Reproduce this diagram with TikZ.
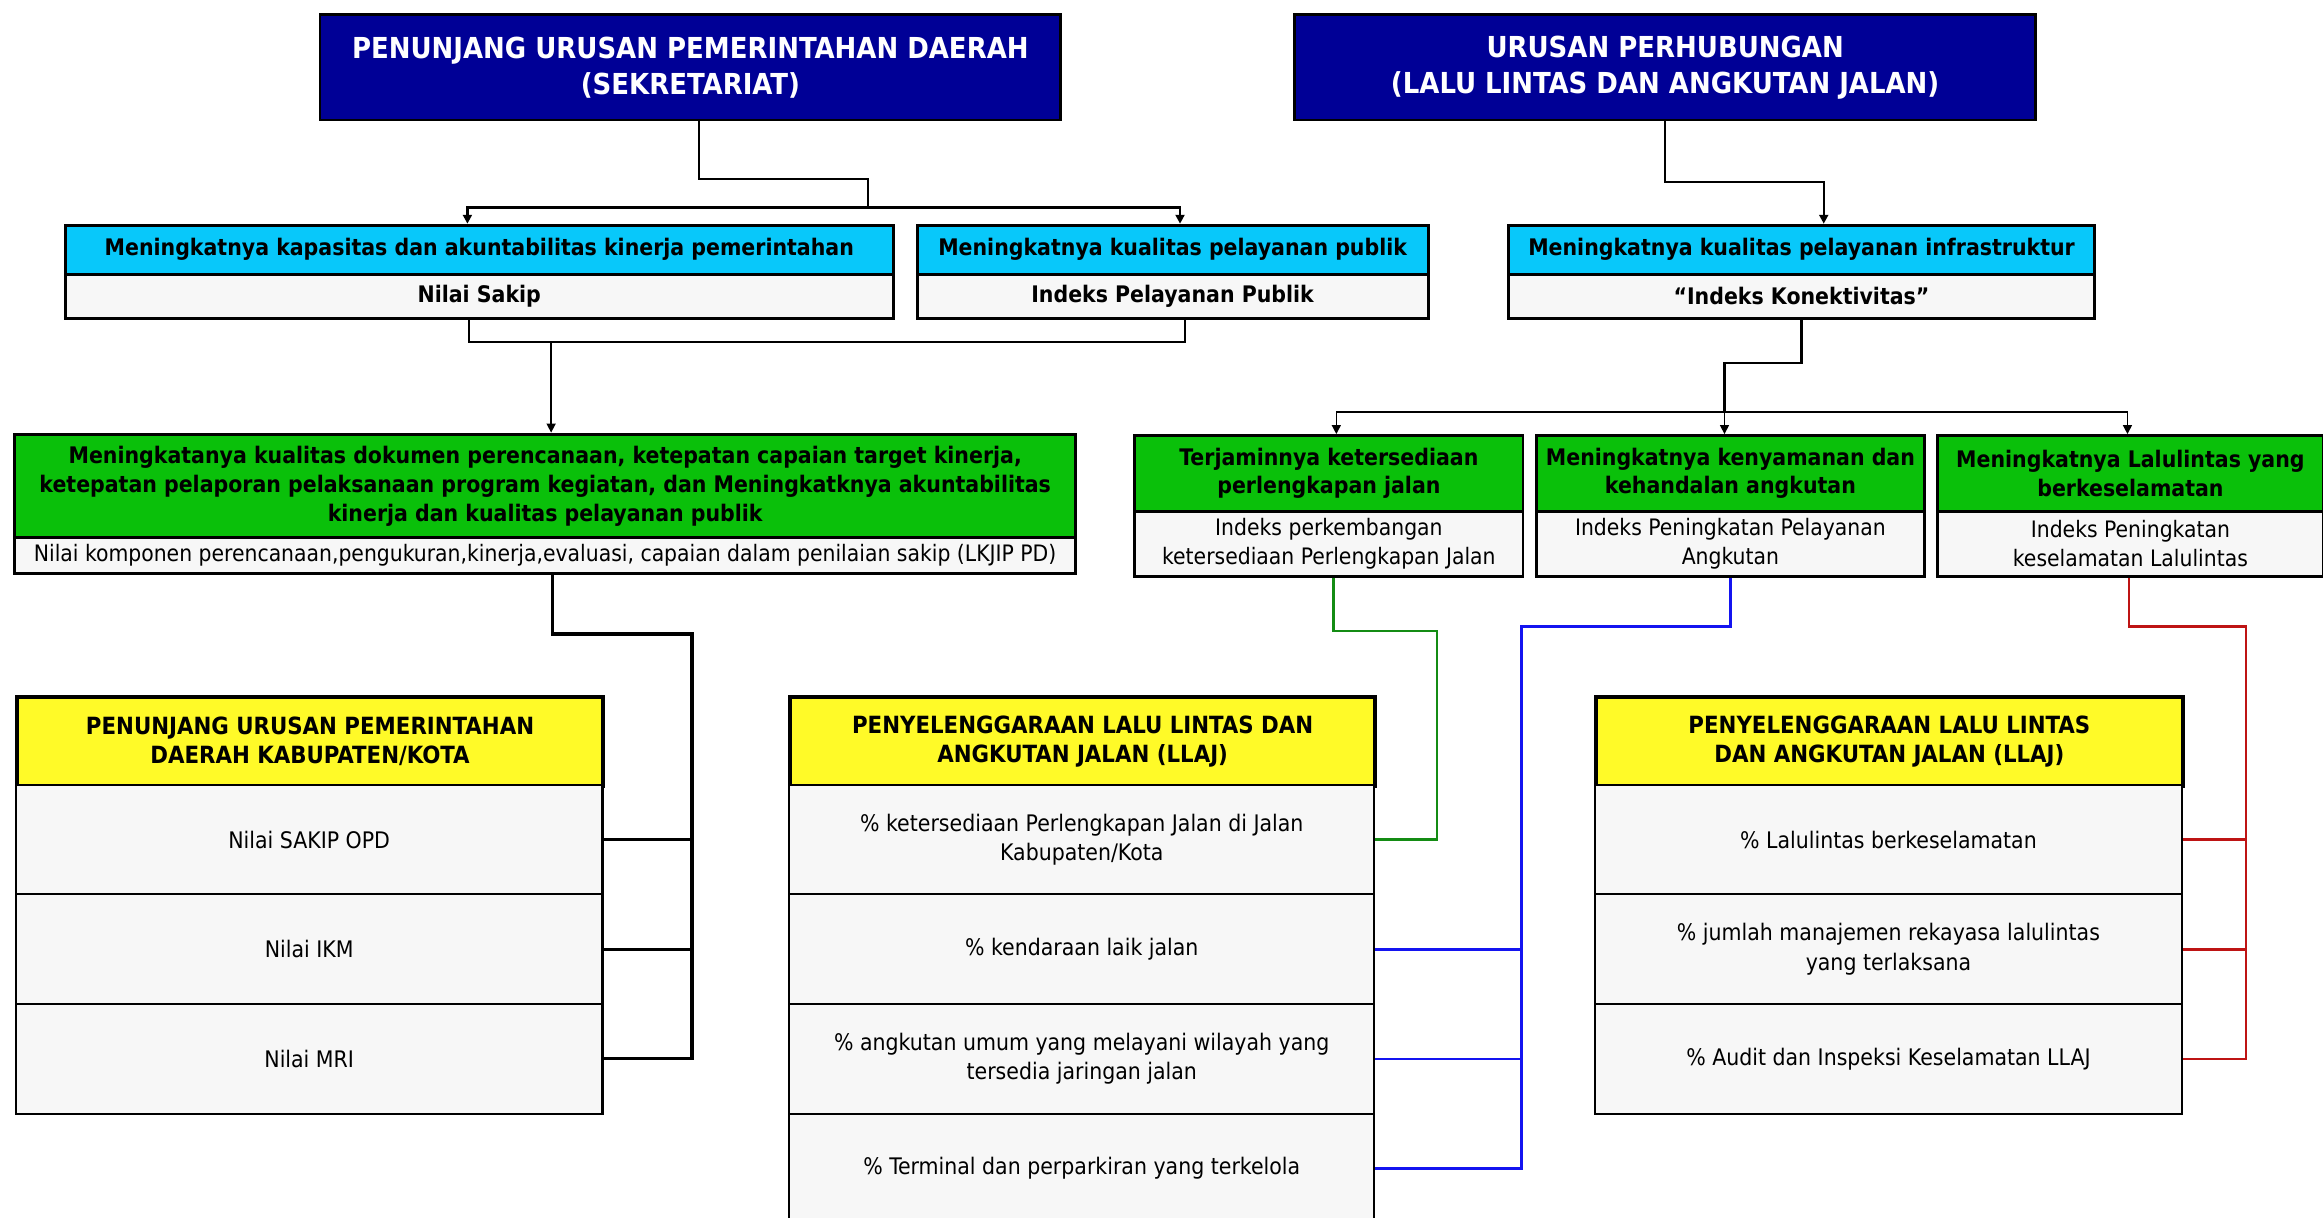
\documentclass[tikz,border=0pt]{standalone}
\usepackage{fontspec}
\setmainfont{DejaVu Sans Condensed}
\usetikzlibrary{arrows.meta}
\definecolor{navy}{RGB}{0,0,150}
\definecolor{cyanh}{RGB}{8,200,250}
\definecolor{greenh}{RGB}{10,192,10}
\definecolor{yellowh}{RGB}{255,250,40}
\definecolor{rowf}{RGB}{247,247,247}
\definecolor{lgreen}{RGB}{20,140,20}
\definecolor{lblue}{RGB}{20,20,240}
\definecolor{lred}{RGB}{190,20,20}
\tikzset{
  box/.style={draw=black, inner sep=0pt, anchor=north west, align=center},
  navybox/.style={box, line width=2pt, fill=navy, text=white, font=\fontsize{19.5}{24}\selectfont\bfseries},
  cyanbox/.style={box, line width=2pt, fill=cyanh, font=\fontsize{15.4}{19}\selectfont\bfseries},
  greenbox/.style={box, line width=2pt, fill=greenh, font=\fontsize{15.4}{19.5}\selectfont\bfseries},
  subbold/.style={box, line width=2pt, fill=rowf, font=\fontsize{15.4}{19}\selectfont\bfseries},
  subnorm/.style={box, line width=2pt, fill=rowf, font=\fontsize{15.3}{20}\selectfont},
  yelbox/.style={box, line width=2.6pt, fill=yellowh, font=\fontsize{16}{19.5}\selectfont\bfseries},
  rowbox/.style={box, line width=1.4pt, fill=rowf, font=\fontsize{15.4}{20}\selectfont},
  conn/.style={line width=1.6pt, draw=black},
  thin/.style={line width=1pt, draw=black},
  arr/.style={conn, -{Triangle[length=6pt,width=6pt]}},
  arrthin/.style={thin, -{Triangle[length=6pt,width=6pt]}},
  gconn/.style={line width=1.8pt, draw=lgreen},
  bconn/.style={line width=1.8pt, draw=lblue},
  rconn/.style={line width=1.8pt, draw=lred},
  kconn/.style={line width=2.2pt, draw=black}
}
\begin{document}
\begin{tikzpicture}[x=1pt,y=-1pt]
\clip (0,0) rectangle (1568,822);
\fill[white] (0,0) rectangle (1568,822);
% top navy boxes
\node[navybox, minimum width=500, minimum height=71] (dl) at (215,9) {PENUNJANG URUSAN PEMERINTAHAN DAERAH\\(SEKRETARIAT)};
\node[navybox, minimum width=500, minimum height=71] (dr) at (873,9) {URUSAN PERHUBUNGAN\\(LALU LINTAS DAN ANGKUTAN JALAN)};
% cyan row
\node[cyanbox, minimum width=559, minimum height=33] (A) at (43,151) {Meningkatnya kapasitas dan akuntabilitas kinerja pemerintahan};
\node[subbold, minimum width=559, minimum height=30] (A2) at (43,184) {Nilai Sakip};
\node[cyanbox, minimum width=345, minimum height=33] (B) at (618,151) {Meningkatnya kualitas pelayanan publik};
\node[subbold, minimum width=345, minimum height=30] (B2) at (618,184) {Indeks Pelayanan Publik};
\node[cyanbox, minimum width=396, minimum height=33] (C) at (1017,151) {Meningkatnya kualitas pelayanan infrastruktur};
\node[subbold, minimum width=396, minimum height=30] (C2) at (1017,184) {“Indeks Konektivitas”};
% big green
\node[greenbox, minimum width=716, minimum height=70] (G) at (9,292) {Meningkatanya kualitas dokumen perencanaan, ketepatan capaian target kinerja,\\ketepatan pelaporan pelaksanaan program kegiatan, dan Meningkatknya akuntabilitas\\kinerja dan kualitas pelayanan publik};
\node[subnorm, minimum width=716, minimum height=24] (G2) at (9,362) {Nilai komponen perencanaan,pengukuran,kinerja,evaluasi, capaian dalam penilaian sakip (LKJIP PD)};
% three green
\node[greenbox, minimum width=262, minimum height=51] (D) at (765,293) {Terjaminnya ketersediaan\\perlengkapan jalan};
\node[subnorm, minimum width=262, minimum height=44] (D2) at (765,344) {Indeks perkembangan\\ketersediaan Perlengkapan Jalan};
\node[greenbox, minimum width=262, minimum height=51] (E) at (1036,293) {Meningkatnya kenyamanan dan\\kehandalan angkutan};
\node[subnorm, minimum width=262, minimum height=44] (E2) at (1036,344) {Indeks Peningkatan Pelayanan\\Angkutan};
\node[greenbox, minimum width=260, minimum height=51] (F) at (1307,293) {Meningkatnya Lalulintas yang\\berkeselamatan};
\node[subnorm, minimum width=260, minimum height=44] (F2) at (1307,344) {Indeks Peningkatan\\keselamatan Lalulintas};
% table 1
\node[yelbox, minimum width=396, minimum height=60] (T1) at (10,469) {PENUNJANG URUSAN PEMERINTAHAN\\DAERAH KABUPATEN/KOTA};
\node[rowbox, minimum width=396, minimum height=74] (T1a) at (10,529) {Nilai SAKIP OPD};
\node[rowbox, minimum width=396, minimum height=74] (T1b) at (10,603) {Nilai IKM};
\node[rowbox, minimum width=396, minimum height=74] (T1c) at (10,677) {Nilai MRI};
% table 2
\node[yelbox, minimum width=395, minimum height=60] (T2) at (532,469) {PENYELENGGARAAN LALU LINTAS DAN\\ANGKUTAN JALAN (LLAJ)};
\node[rowbox, minimum width=395, minimum height=74] (T2a) at (532,529) {\% ketersediaan Perlengkapan Jalan di Jalan\\Kabupaten/Kota};
\node[rowbox, minimum width=395, minimum height=74] (T2b) at (532,603) {\% kendaraan laik jalan};
\node[rowbox, minimum width=395, minimum height=74] (T2c) at (532,677) {\% angkutan umum yang melayani wilayah yang\\tersedia jaringan jalan};
\node[rowbox, minimum width=395, minimum height=74] (T2d) at (532,751) {\% Terminal dan perparkiran yang terkelola};
% table 3
\node[yelbox, minimum width=396, minimum height=60] (T3) at (1076,469) {PENYELENGGARAAN LALU LINTAS\\DAN ANGKUTAN JALAN (LLAJ)};
\node[rowbox, minimum width=396, minimum height=74] (T3a) at (1076,529) {\% Lalulintas berkeselamatan};
\node[rowbox, minimum width=396, minimum height=74] (T3b) at (1076,603) {\% jumlah manajemen rekayasa lalulintas\\yang terlaksana};
\node[rowbox, minimum width=396, minimum height=74] (T3c) at (1076,677) {\% Audit dan Inspeksi Keselamatan LLAJ};
% connectors top-left
\coordinate (j1) at (586,140);
\draw[conn] ([xshift=6pt]dl.south) |- (586,121) -- (j1);
\draw[arr] (j1) -| ([xshift=-8pt]A.north);
\draw[arr] (j1) -| ([xshift=5pt]B.north);
% top-right
\coordinate (k1) at (1231,123);
\draw[arr] (dr.south) |- (k1) -- (k1 |- C.north);
% A2/B2 to G
\coordinate (k2) at (372,231);
\draw[thin] ([xshift=-7pt]A2.south) |- (800,231) -- (800,231 |- B2.south);
\draw[arrthin] (k2) -- (k2 |- G.north);
% C2 to D,E,F
\coordinate (j2) at (1164,278);
\draw[conn] (C2.south) |- (j2 |- 0,245) -- (j2);
\draw[arrthin] (j2) -| ([xshift=5pt]D.north);
\draw[arrthin] (j2) -- (j2 |- E.north);
\draw[arrthin] (j2) -| ([xshift=-2pt]F.north);
% G2 to table 1
\coordinate (bx) at (467,428);
\draw[kconn] ([xshift=5pt]G2.south) |- (bx) |- (T1c.east);
\draw[kconn] (bx |- T1a.east) -- (T1a.east);
\draw[kconn] (bx |- T1b.east) -- (T1b.east);
% green
\draw[gconn] ([xshift=3pt]D2.south) |- (970,426) |- (T2a.east);
% blue
\coordinate (bl) at (1027,423);
\draw[bconn] (E2.south) |- (bl) |- (T2d.east);
\draw[bconn] (bl |- T2b.east) -- (T2b.east);
\draw[bconn] (bl |- T2c.east) -- (T2c.east);
% red
\coordinate (rd) at (1516,423);
\draw[rconn] ([xshift=-1pt]F2.south) |- (rd) |- (T3c.east);
\draw[rconn] (rd |- T3a.east) -- (T3a.east);
\draw[rconn] (rd |- T3b.east) -- (T3b.east);
\end{tikzpicture}
\end{document}
